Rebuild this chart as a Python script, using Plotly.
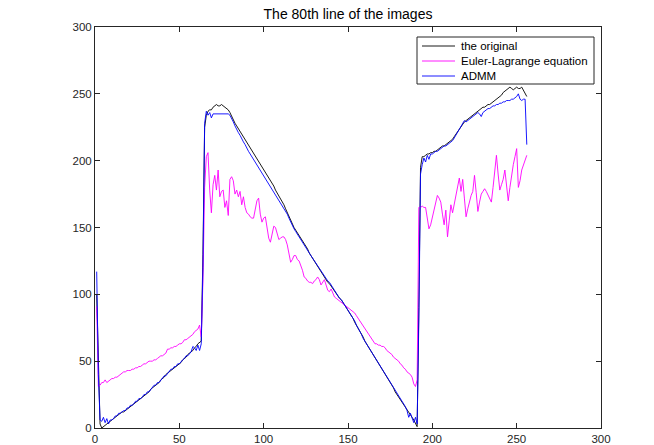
import plotly.graph_objects as go

# Pixel intensity along the 80th line (x = 1..256)
original = [
    100, 45, 3, 0, 1, 2, 3, 4, 5, 6,
    7, 8, 9, 10, 11, 12, 12, 13, 14, 15,
    16, 17, 18, 19, 20, 21, 22, 23, 24, 25,
    26, 27, 29, 30, 31, 32, 33, 34, 36, 37,
    38, 40, 41, 42, 43, 44, 45, 46, 47, 48,
    49, 51, 52, 53, 55, 56, 57, 58, 60, 61,
    63, 64, 65, 130, 225, 234, 237, 238, 238, 240,
    241, 242, 241, 241, 242, 241, 240, 239, 238, 236,
    233, 231, 228, 226, 224, 222, 219, 217, 215, 213,
    211, 209, 207, 205, 203, 201, 199, 197, 195, 193,
    191, 189, 187, 185, 183, 181, 178, 176, 174, 172,
    169, 167, 164, 161, 158, 155, 152, 150, 148, 146,
    145, 143, 140, 138, 136, 134, 131, 129, 127, 125,
    123, 121, 119, 117, 115, 113, 111, 109, 108, 106,
    104, 102, 100, 99, 97, 96, 94, 92, 91, 89,
    87, 84, 82, 79, 77, 74, 72, 70, 68, 65,
    63, 61, 59, 57, 54, 52, 50, 48, 46, 44,
    42, 40, 38, 36, 34, 32, 30, 27, 25, 23,
    21, 19, 17, 15, 14, 12, 10, 8, 6, 3,
    1, 90, 195, 203, 203, 204, 205, 205, 206, 206,
    207, 207, 208, 209, 210, 211, 211, 212, 213, 214,
    215, 216, 218, 220, 222, 224, 226, 228, 229, 230,
    231, 232, 233, 234, 235, 236, 237, 238, 239, 240,
    240, 241, 242, 242, 243, 244, 245, 246, 247, 248,
    249, 251, 252, 253, 254, 255, 254, 253, 254, 255,
    254, 254, 255, 253, 251, 248,
]

euler_lagrange = [
    91, 31, 32, 34, 34, 36, 34, 35, 36, 37,
    37, 38, 38, 39, 40, 41, 42, 42, 43, 43,
    43, 44, 44, 45, 45, 46, 46, 47, 48, 48,
    49, 50, 50, 50, 51, 51, 52, 53, 54, 54,
    55, 56, 59, 59, 60, 60, 61, 61, 62, 63,
    63, 64, 66, 66, 67, 68, 69, 70, 72, 73,
    74, 77, 68, 110, 180, 203, 206, 178, 161, 182,
    189, 178, 193, 173, 177, 178, 165, 170, 159, 186,
    188, 185, 175, 178, 173, 177, 167, 173, 165, 161,
    160, 158, 157, 157, 163, 170, 172, 160, 154, 157,
    158, 150, 142, 139, 146, 151, 150, 145, 141, 142,
    143, 143, 141, 137, 131, 124, 126, 129, 129, 126,
    125, 122, 118, 113, 112, 110, 109, 109, 108, 110,
    111, 113, 111, 107, 109, 111, 107, 103, 102, 104,
    101, 98, 97, 96, 95, 94, 93, 92, 91, 90,
    89, 88, 87, 86, 84, 82, 80, 78, 77, 75,
    73, 71, 69, 67, 65, 63, 63, 62, 62, 61,
    61, 60, 58, 57, 56, 55, 53, 52, 51, 50,
    48, 47, 45, 44, 42, 41, 40, 38, 33, 31,
    36, 165, 165, 166, 165, 165, 158, 149, 152, 157,
    162, 168, 174, 172, 169, 160, 152, 163, 143, 155,
    167, 161, 168, 175, 181, 187, 177, 186, 172, 158,
    164, 170, 174, 177, 189, 176, 162, 169, 175, 177,
    179, 177, 174, 171, 169, 180, 190, 204, 190, 178,
    182, 186, 193, 183, 170, 180, 190, 197, 203, 209,
    180, 185, 193, 197, 200, 204,
]

admm = [
    117, 40, 6, 5, 8, 4, 7, 3, 6, 6,
    7, 9, 9, 11, 11, 12, 13, 13, 15, 15,
    17, 17, 18, 20, 20, 22, 22, 23, 25, 25,
    27, 27, 29, 30, 32, 32, 34, 34, 36, 37,
    39, 39, 41, 42, 44, 44, 46, 46, 48, 48,
    50, 51, 52, 54, 54, 56, 57, 61, 60, 58,
    62, 58, 63, 120, 228, 237, 234, 236, 232, 235,
    235, 235, 235, 235, 235, 235, 235, 235, 235, 234,
    232, 229, 226, 223, 221, 219, 216, 214, 212, 209,
    207, 205, 203, 201, 199, 197, 195, 193, 191, 189,
    187, 185, 183, 181, 179, 177, 175, 173, 171, 169,
    167, 165, 162, 160, 157, 154, 151, 149, 147, 145,
    144, 142, 140, 138, 135, 133, 131, 129, 127, 125,
    123, 121, 119, 117, 115, 114, 112, 110, 109, 107,
    105, 103, 101, 99, 97, 96, 94, 92, 90, 88,
    86, 84, 82, 80, 77, 75, 72, 70, 67, 65,
    63, 61, 59, 56, 54, 52, 50, 48, 46, 44,
    42, 40, 38, 36, 34, 32, 30, 28, 26, 24,
    22, 20, 18, 16, 13, 8, 11, 7, 4, 8,
    3, 80, 190, 197, 202, 199, 204, 201, 205, 205,
    206, 207, 207, 208, 209, 210, 211, 211, 212, 213,
    214, 215, 217, 219, 221, 223, 225, 227, 230, 229,
    230, 231, 232, 233, 234, 235, 236, 235, 233, 236,
    237, 238, 239, 239, 240, 241, 241, 242, 242, 243,
    243, 244, 244, 245, 245, 245, 246, 246, 247, 248,
    250, 246, 245, 246, 246, 212,
]

tick_vals = [0, 50, 100, 150, 200, 250, 300]
title_text = "The 80th line of the images"
names = ["the original", "Euler-Lagrange equation", "ADMM"]
colors = ["#000000", "#ff00ff", "#0000ff"]

FONT = "Liberation Sans, Arial, Helvetica"
W, H = 654, 445
L, R, T, B = 95, 53, 27, 17
PW, PH = W - L - R, H - T - B


def px_x(p):
    return (p - L) / PW


def px_y(p):
    return (H - B - p) / PH


fig = go.Figure()
for name, ys, c in zip(names, [original, euler_lagrange, admm], colors):
    xs = list(range(1, len(ys) + 1))
    fig.add_trace(go.Scatter(x=xs, y=ys, mode="lines", name=name,
                             showlegend=False,
                             line=dict(color=c, width=0.9)))

axis_common = dict(
    range=[0, 300], tickvals=tick_vals, ticks="inside", ticklen=5,
    tickcolor="#262626", showline=True, linecolor="#262626", linewidth=1,
    mirror="ticks", showgrid=False, zeroline=False, automargin=False,
    tickfont=dict(family=FONT, size=11.5, color="#262626"),
)

# Legend box drawn in the MATLAB style
shapes = [dict(type="rect", xref="paper", yref="paper",
               x0=px_x(417), x1=px_x(594), y0=px_y(84), y1=px_y(37),
               line=dict(color="#262626", width=1), fillcolor="white",
               layer="above")]
annotations = []
rows = [46, 61, 76]
for name, c, yp in zip(names, colors, rows):
    shapes.append(dict(type="line", xref="paper", yref="paper",
                       x0=px_x(422), x1=px_x(455), y0=px_y(yp), y1=px_y(yp),
                       line=dict(color=c, width=0.9), layer="above"))
    annotations.append(dict(text=name, xref="paper", yref="paper",
                            x=px_x(459), y=px_y(yp), xanchor="left",
                            yanchor="middle", showarrow=False,
                            font=dict(family=FONT, size=11.5, color="#000000")))

fig.update_layout(
    width=W, height=H,
    margin=dict(l=L, r=R, t=T, b=B),
    paper_bgcolor="white", plot_bgcolor="white",
    title=dict(text=title_text, x=0.5, xref="paper", xanchor="center",
               y=1 - 14 / H, yref="container", yanchor="middle",
               font=dict(family=FONT, size=14, color="#000000")),
    xaxis=axis_common,
    yaxis=axis_common,
    shapes=shapes,
    annotations=annotations,
    showlegend=False,
)

fig.write_html("out.html")
